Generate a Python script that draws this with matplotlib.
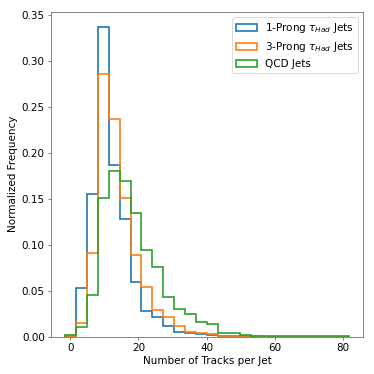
import numpy as np
import matplotlib
matplotlib.use("Agg")
import matplotlib.pyplot as plt

bin_start = -1.5
bin_width = 3.2
n_bins = 26
edges = bin_start + bin_width * np.arange(n_bins + 1)
centers = 0.5 * (edges[:-1] + edges[1:])

one_prong = [0.001, 0.053, 0.155, 0.337, 0.187, 0.128, 0.059, 0.028, 0.021, 0.0116,
             0.0047, 0.0036, 0.0025, 0.0015, 0.0006, 0.0004, 0.0002, 0.0001, 0.0001, 0.0001,
             0, 0, 0, 0, 0, 0]
three_prong = [0.0005, 0.015, 0.091, 0.286, 0.237, 0.151, 0.089, 0.054, 0.029, 0.0218,
               0.012, 0.0055, 0.004, 0.003, 0.001, 0.0007, 0.0004, 0.0002, 0.0001, 0.0001,
               0.0001, 0, 0, 0, 0, 0]
qcd = [0.002, 0.010, 0.045, 0.151, 0.180, 0.169, 0.135, 0.094, 0.076, 0.043,
       0.030, 0.0247, 0.0157, 0.0135, 0.004, 0.004, 0.0018, 0.0006, 0.001, 0.0004,
       0.0003, 0.0003, 0.0002, 0.0002, 0.0002, 0.0002]

labels = [r'1-Prong $\tau_{Had}$ Jets', r'3-Prong $\tau_{Had}$ Jets', 'QCD Jets']
colors = ['#1f77b4', '#ff7f0e', '#2ca02c']

DPI = 374 / 6
plt.rcParams['font.size'] = 12
fig = plt.figure(figsize=(6, 6), dpi=DPI)
ax = fig.add_axes([0.136, 0.1, 0.835, 0.869])
for vals, lab, c in zip([one_prong, three_prong, qcd], labels, colors):
    ax.hist(centers, bins=edges, weights=vals, histtype='step', color=c, lw=1.9, label=lab)
for s in ax.spines.values():
    s.set_edgecolor('#555555')
ax.tick_params(color='#555555')
ax.set_xlabel('Number of Tracks per Jet')
ax.set_ylabel('Normalized Frequency')
ax.legend(loc='upper right')
fig.savefig('out.png', dpi=DPI)
